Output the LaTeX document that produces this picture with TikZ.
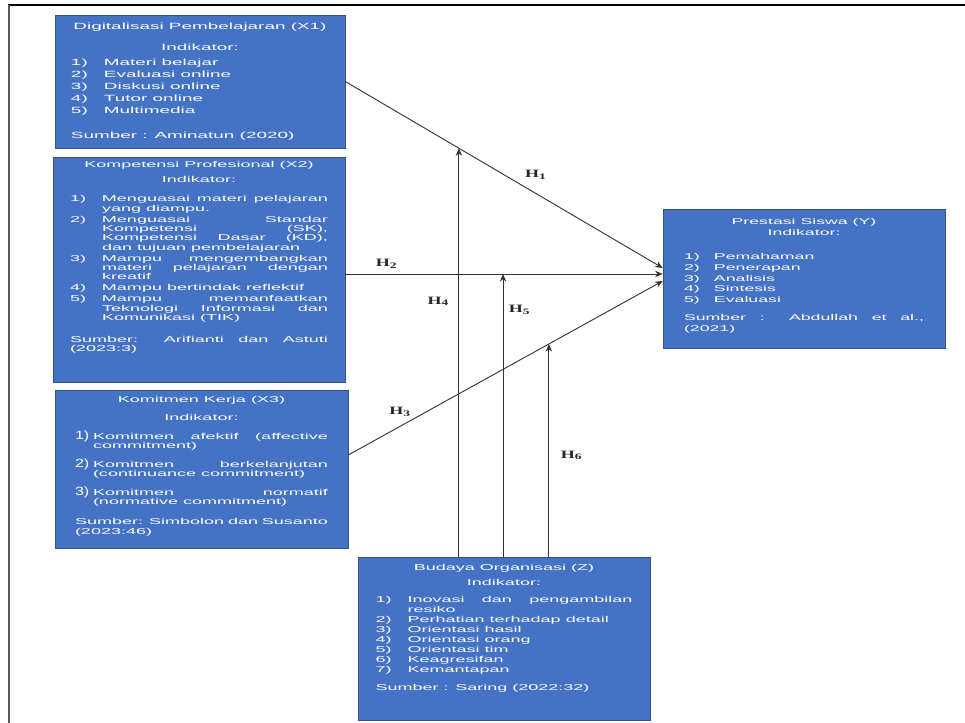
\documentclass[tikz,border=0pt]{standalone}
\usepackage{fontspec}
\usepackage{tikz}
\usetikzlibrary{arrows.meta,positioning,calc}

\newfontfamily\boxfont[FakeStretch=2.1]{Liberation Sans}
\newfontfamily\numfont[FakeStretch=1.35]{Liberation Sans}
\newfontfamily\hfont[FakeStretch=1.6]{Liberation Serif}
\definecolor{boxblue}{HTML}{4472C4}
\definecolor{boxedge}{HTML}{2F528F}

\hyphenpenalty=10000
\exhyphenpenalty=10000
\tolerance=10000
\hbadness=10000

\newlength\itmw
\newlength\itmgap
\newcommand\itm[2]{\par\kern\itmgap\noindent\hangindent=\itmw\hangafter=1\makebox[\itmw][l]{#1}#2\par}
\newcommand\ttl[1]{{\centering #1\par}}
\newcommand\bignum[1]{\smash{\numfont\fontsize{8.5}{8.5}\selectfont #1}}

\begin{document}
\begin{tikzpicture}
[>={Stealth[length=1.9mm,width=1.6mm]},
 box/.style={draw=boxedge,line width=0.4pt,fill=boxblue,text=white,align=justify,inner ysep=0pt},
 link/.style={->,draw=black!80,line width=0.65pt},
 hlab/.style={font=\hfont\bfseries\fontsize{8}{8}\selectfont,inner sep=1pt,text=black!85}]

\useasboundingbox (0,0) rectangle (24.125,18.075);
% frame
\draw[line width=0.8pt] (0.2,17.95) -- (24.125,17.95);
\draw[line width=0.8pt,black!65] (0.225,17.95) -- (0.225,0);

% variables
\node[box,text width=6.45cm,inner xsep=0.4cm,minimum height=3.325cm,
      font=\boxfont\fontsize{6.4}{8.4}\selectfont,
      execute at begin node={\setlength\itmw{0.825cm}\setlength\itmgap{0pt}}]
  (x1) at (5.0,16.0375) {%
  \ttl{Digitalisasi Pembelajaran (X1)}\kern6.8pt
  \ttl{Indikator:}\kern2.5pt
  \itm{1)}{Materi belajar}
  \itm{2)}{Evaluasi online}
  \itm{3)}{Diskusi online}
  \itm{4)}{Tutor online}
  \itm{5)}{Multimedia}
  \kern9.5pt Sumber : Aminatun (2020)};

\node[box,text width=6.45cm,inner xsep=0.425cm,minimum height=5.625cm,
      font=\boxfont\fontsize{6.1}{6.7}\selectfont,
      execute at begin node={\setlength\itmw{0.8cm}\setlength\itmgap{1pt}}]
  (x2) at (4.975,11.3375) {%
  \ttl{Kompetensi Profesional (X2)}\kern4pt
  \ttl{Indikator:}\kern5.8pt
  \itm{1)}{Menguasai materi pelajaran yang diampu.}
  \itm{2)}{Menguasai Standar Kompetensi (SK), Kompetensi Dasar (KD), dan tujuan pembelajaran}
  \itm{3)}{Mampu mengembangkan materi pelajaran dengan kreatif}
  \itm{4)}{Mampu bertindak reflektif}
  \itm{5)}{Mampu memanfaatkan Teknologi Informasi dan Komunikasi (TIK)}
  \kern8.9pt Sumber: Arifianti dan Astuti (2023:3)\par\kern17pt};

\node[box,text width=6.325cm,inner xsep=0.5cm,minimum height=3.95cm,
      font=\boxfont\fontsize{6.1}{6.6}\selectfont,
      execute at begin node={\setlength\itmw{0.45cm}\setlength\itmgap{6.9pt}}]
  (x3) at (5.0375,6.35) {%
  \ttl{Komitmen Kerja (X3)}\kern6.2pt
  \ttl{Indikator:}
  \itm{\bignum{1)}}{Komitmen afektif (affective commitment)}
  \itm{\bignum{2)}}{Komitmen berkelanjutan (continuance commitment)}
  \itm{\bignum{3)}}{Komitmen normatif (normative commitment)}
  \kern7.6pt Sumber: Simbolon dan Susanto (2023:46)\par\kern4.3pt};

\node[box,text width=6.0cm,inner xsep=0.525cm,minimum height=3.475cm,
      font=\boxfont\fontsize{6.0}{7.6}\selectfont,
      execute at begin node={\setlength\itmw{0.75cm}\setlength\itmgap{0pt}}]
  (y) at (20.1,11.1125) {%
  \ttl{Prestasi Siswa (Y)}\kern0.9pt
  \ttl{Indikator:}\kern9.4pt
  \itm{1)}{Pemahaman}
  \itm{2)}{Penerapan}
  \itm{3)}{Analisis}
  \itm{4)}{Sintesis}
  \itm{5)}{Evaluasi}
  \kern5.2pt Sumber : Abdullah et al., (2021)\par\kern4.3pt};

\node[box,text width=6.42cm,inner xsep=0.44cm,minimum height=4.075cm,
      font=\boxfont\fontsize{6.1}{7.1}\selectfont,
      execute at begin node={\setlength\itmw{0.8cm}\setlength\itmgap{0pt}}]
  (z) at (12.6,2.1125) {%
  \ttl{Budaya Organisasi (Z)}\kern3.6pt
  \ttl{Indikator:}\kern4.9pt
  \itm{1)}{Inovasi dan pengambilan resiko}
  \itm{2)}{Perhatian terhadap detail}
  \itm{3)}{Orientasi hasil}
  \itm{4)}{Orientasi orang}
  \itm{5)}{Orientasi tim}
  \itm{6)}{Keagresifan}
  \itm{7)}{Kemantapan}
  \kern5.7pt Sumber : Saring (2022:32)\par\kern15pt};

% direct effects
\coordinate (t1) at ([yshift=0.2625cm]y.west);
\coordinate (t2) at ([yshift=0.1125cm]y.west);
\coordinate (t3) at ([yshift=-0.0625cm]y.west);

\draw[link] (x1.east) -- coordinate[pos=.358] (m1)
  node[hlab,pos=.6,above=0.3cm] (h1) {H\textsubscript{1}} (t1);
\draw[link] (x2.east |- t2) -- coordinate[pos=.497] (m2)
  node[hlab,pos=.13,above=0.1cm] (h2) {H\textsubscript{2}} (t2);
\draw[link] ([yshift=0.35cm]x3.east) -- coordinate[pos=.638] (m3)
  node[hlab,pos=.165,above=0.2cm] (h3) {H\textsubscript{3}} (t3);

% moderation
\draw[link] (z.north -| m1) -- node[hlab,pos=.625,left=0.2cm] (h4) {H\textsubscript{4}} (m1);
\draw[link] (z.north -| m2) -- node[hlab,pos=.873,right=0.1cm] (h5) {H\textsubscript{5}} (m2);
\draw[link] (z.north -| m3) -- node[hlab,pos=.476,right=0.25cm] (h6) {H\textsubscript{6}} (m3);
\end{tikzpicture}
\end{document}
